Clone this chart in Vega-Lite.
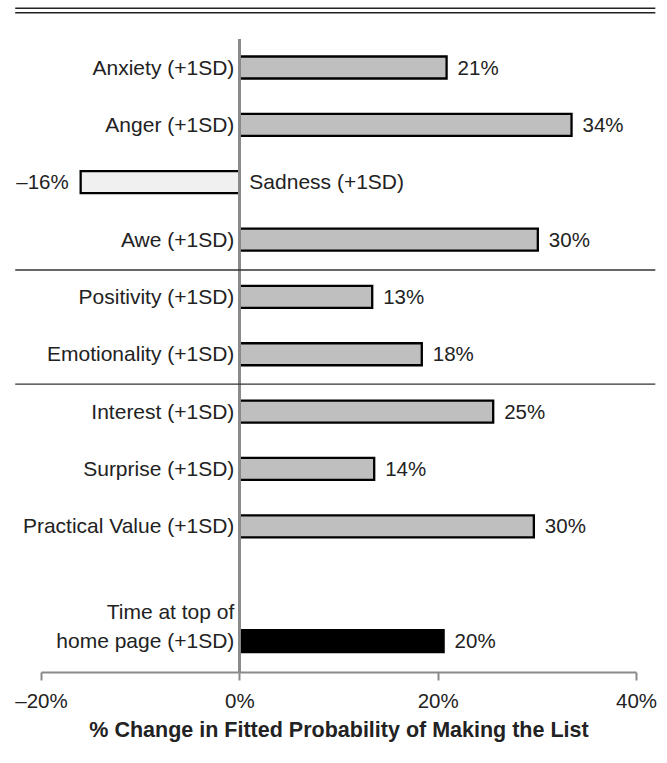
{
  "$schema": "https://vega.github.io/schema/vega-lite/v6.json",
  "width": 595,
  "height": 633,
  "autosize": "none",
  "padding": {"left": 41, "top": 39, "right": 31, "bottom": 91},
  "background": "white",
  "config": {
    "font": "Liberation Sans",
    "view": {"stroke": null},
    "axisY": {"disable": true},
    "axisX": {
      "domainColor": "#8a8a8a",
      "domainWidth": 2,
      "tickColor": "#8a8a8a",
      "tickWidth": 2,
      "tickSize": 8,
      "labelFontSize": 20.5,
      "labelColor": "#222222",
      "labelPadding": 11,
      "labelFlush": false,
      "labelOverlap": false,
      "labelFont": "Liberation Sans",
      "titleFont": "Liberation Sans",
      "titleFontSize": 21.5,
      "titleFontWeight": "bold",
      "titleColor": "#222222",
      "titlePadding": 8,
      "grid": false
    }
  },
  "data": {
    "values": [
      {"label": "Anxiety (+1SD)", "rank": 1, "value": 20.9, "text": "21%", "category": "Content"},
      {"label": "Anger (+1SD)", "rank": 2, "value": 33.5, "text": "34%", "category": "Content"},
      {"label": "Sadness (+1SD)", "rank": 3, "value": -16, "text": "–16%", "category": "Content (negative)"},
      {"label": "Awe (+1SD)", "rank": 4, "value": 30.1, "text": "30%", "category": "Content"},
      {"label": "Positivity (+1SD)", "rank": 5, "value": 13.4, "text": "13%", "category": "Content"},
      {"label": "Emotionality (+1SD)", "rank": 6, "value": 18.4, "text": "18%", "category": "Content"},
      {"label": "Interest (+1SD)", "rank": 7, "value": 25.6, "text": "25%", "category": "Content"},
      {"label": "Surprise (+1SD)", "rank": 8, "value": 13.6, "text": "14%", "category": "Content"},
      {"label": "Practical Value (+1SD)", "rank": 9, "value": 29.7, "text": "30%", "category": "Content"},
      {"label": "Time at top of\nhome page (+1SD)", "rank": 11, "value": 20.6, "text": "20%", "category": "Control"}
    ]
  },
  "layer": [
    {
      "mark": {"type": "bar", "orient": "horizontal", "height": 22, "stroke": "#000000", "strokeWidth": 2.3},
      "encoding": {
        "x": {
          "field": "value",
          "type": "quantitative",
          "scale": {"domain": [-20, 40], "nice": false, "zero": false},
          "axis": {
            "values": [-20, 0, 20, 40],
            "labelExpr": "datum.value < 0 ? '–' + abs(datum.value) + '%' : datum.value + '%'"
          },
          "title": "% Change in Fitted Probability of Making the List"
        },
        "y": {
          "field": "rank",
          "type": "quantitative",
          "scale": {"domain": [0.503, 11.54], "nice": false, "zero": false, "reverse": true, "padding": 0},
          "axis": null
        },
        "fill": {
          "field": "category",
          "type": "nominal",
          "scale": {"domain": ["Content", "Content (negative)", "Control"], "range": ["#bfbfbf", "#f0f0f0", "#000000"]},
          "legend": null
        }
      }
    },
    {
      "mark": {"type": "rule", "color": "#8a8a8a", "strokeWidth": 2},
      "encoding": {
        "x": {"datum": 0, "type": "quantitative"}
      }
    },
    {
      "transform": [{"filter": "datum.rank == 1"}],
      "mark": {"type": "rule", "color": "#222222", "strokeWidth": 1.6},
      "encoding": {
        "x": {"datum": -22.6, "type": "quantitative"},
        "x2": {"datum": 41.95},
        "y": {"datum": -0.032, "type": "quantitative"}
      }
    },
    {
      "transform": [{"filter": "datum.rank == 1"}],
      "mark": {"type": "rule", "color": "#222222", "strokeWidth": 1.6},
      "encoding": {
        "x": {"datum": -22.6, "type": "quantitative"},
        "x2": {"datum": 41.95},
        "y": {"datum": 0.044, "type": "quantitative"}
      }
    },
    {
      "transform": [{"filter": "datum.rank == 1"}],
      "mark": {"type": "rule", "color": "#333333", "strokeWidth": 1.4},
      "encoding": {
        "x": {"datum": -22.6, "type": "quantitative"},
        "x2": {"datum": 41.95},
        "y": {"datum": 4.53, "type": "quantitative"}
      }
    },
    {
      "transform": [{"filter": "datum.rank == 1"}],
      "mark": {"type": "rule", "color": "#333333", "strokeWidth": 1.4},
      "encoding": {
        "x": {"datum": -22.6, "type": "quantitative"},
        "x2": {"datum": 41.95},
        "y": {"datum": 6.52, "type": "quantitative"}
      }
    },
    {
      "transform": [{"filter": "datum.value > 0 && datum.rank != 11"}],
      "mark": {"type": "text", "align": "right", "baseline": "middle", "dx": -5, "dy": 1, "fontSize": 21, "color": "#222222"},
      "encoding": {
        "x": {"datum": 0, "type": "quantitative"},
        "y": {"field": "rank", "type": "quantitative", "axis": null},
        "text": {"field": "label", "type": "nominal"}
      }
    },
    {
      "transform": [{"filter": "datum.value < 0"}],
      "mark": {"type": "text", "align": "left", "baseline": "middle", "dx": 10, "dy": 1, "fontSize": 21, "color": "#222222"},
      "encoding": {
        "x": {"datum": 0, "type": "quantitative"},
        "y": {"field": "rank", "type": "quantitative", "axis": null},
        "text": {"field": "label", "type": "nominal"}
      }
    },
    {
      "transform": [{"filter": "datum.rank == 11"}],
      "mark": {"type": "text", "align": "right", "baseline": "middle", "dx": -5, "dy": -28, "fontSize": 21, "lineHeight": 29, "lineBreak": "\n", "color": "#222222"},
      "encoding": {
        "x": {"datum": 0, "type": "quantitative"},
        "y": {"field": "rank", "type": "quantitative", "axis": null},
        "text": {"field": "label", "type": "nominal"}
      }
    },
    {
      "transform": [{"filter": "datum.value > 0"}],
      "mark": {"type": "text", "align": "left", "baseline": "middle", "dx": 11, "dy": 1, "fontSize": 20.5, "color": "#222222"},
      "encoding": {
        "x": {"field": "value", "type": "quantitative", "title": "% Change in Fitted Probability of Making the List"},
        "y": {"field": "rank", "type": "quantitative", "axis": null},
        "text": {"field": "text", "type": "nominal"}
      }
    },
    {
      "transform": [{"filter": "datum.value < 0"}],
      "mark": {"type": "text", "align": "right", "baseline": "middle", "dx": -12, "dy": 1, "fontSize": 20.5, "color": "#222222"},
      "encoding": {
        "x": {"field": "value", "type": "quantitative", "title": "% Change in Fitted Probability of Making the List"},
        "y": {"field": "rank", "type": "quantitative", "axis": null},
        "text": {"field": "text", "type": "nominal"}
      }
    }
  ]
}
